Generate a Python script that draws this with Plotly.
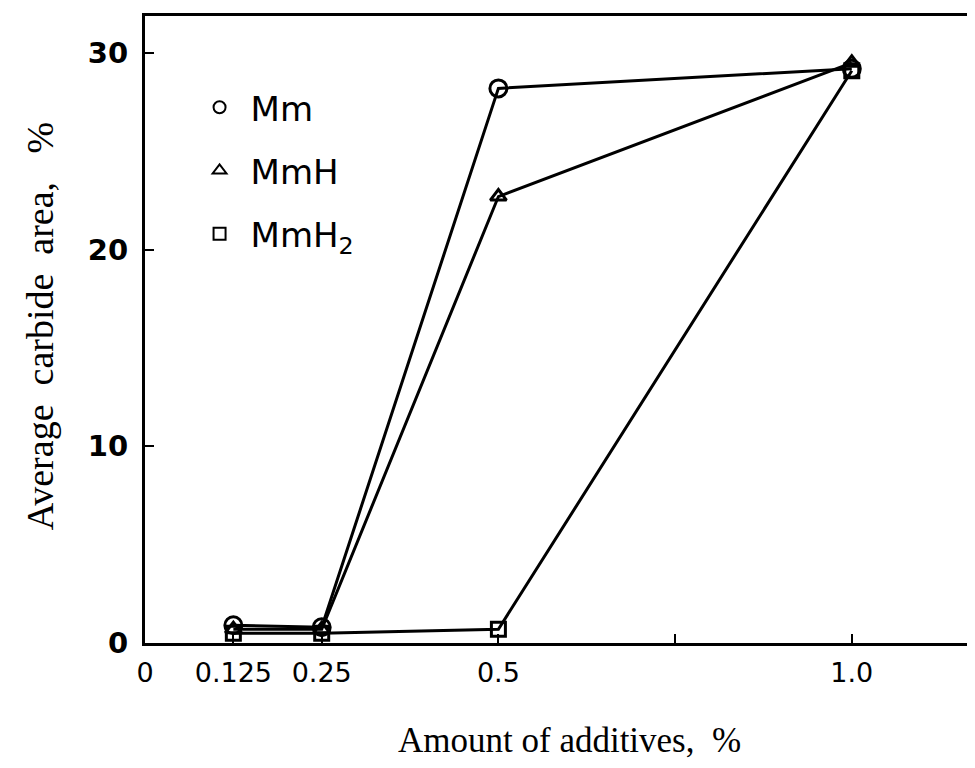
import plotly.graph_objects as go

# Data
additive = [0.125, 0.25, 0.5, 1.0]
mm = [0.9, 0.8, 28.2, 29.2]
mmh = [0.7, 0.7, 22.7, 29.5]
mmh2 = [0.5, 0.5, 0.7, 29.1]

series_names = ["Mm", "MmH", "MmH<sub>2</sub>"]
series_values = [mm, mmh, mmh2]
series_symbols = ["circle-open", "triangle-up-open", "square-open"]
series_sizes = [17, 14, 14]

x_tickvals = [0, 0.125, 0.25, 0.5, 0.75, 1.0]
x_ticktext = ["0", "0.125", "0.25", "0.5", "", "1.0"]
y_tickvals = [0, 10, 20, 30]

x_title = "Amount of additives,\u00a0\u00a0%"
y_title = "Average\u00a0 carbide\u00a0 area,\u00a0\u00a0\u00a0%"

fig = go.Figure()
for i, (name, vals, sym, sz) in enumerate(zip(series_names, series_values, series_symbols, series_sizes)):
    fig.add_trace(go.Scatter(
        x=additive, y=vals, mode="lines+markers", showlegend=False,
        line=dict(color="black", width=3),
        marker=dict(symbol=sym, size=sz, color="black", line=dict(width=3, color="black")),
    ))
    # legend entry (marker only)
    fig.add_trace(go.Scatter(
        x=[None], y=[None], mode="markers", name=name, legendgroup=f"g{i}",
        marker=dict(symbol=sym, size=10, color="black", line=dict(width=3, color="black")),
    ))

fig.update_layout(
    width=967, height=760,
    margin=dict(l=137, r=5, t=7, b=125),
    paper_bgcolor="white", plot_bgcolor="white",
    font=dict(family="DejaVu Sans", color="black", size=28),
    legend=dict(x=0.053, y=0.90, xanchor="left", yanchor="top",
                bgcolor="rgba(0,0,0,0)", font=dict(size=34, family="DejaVu Sans"),
                tracegroupgap=16, itemsizing="constant", itemwidth=52),
    annotations=[
        dict(text=x_title, xref="paper", yref="paper", x=0.516, y=0, xanchor="center",
             yanchor="middle", yshift=-97, showarrow=False,
             font=dict(family="Liberation Serif", size=35)),
        dict(text=y_title, xref="paper", yref="paper", x=0, y=0.505, xanchor="center",
             yanchor="middle", xshift=-105, textangle=-90, showarrow=False,
             font=dict(family="Liberation Serif", size=38)),
    ],
)
fig.update_xaxes(
    range=[0, 1.163], tickvals=x_tickvals, ticktext=x_ticktext,
    ticks="inside", ticklen=9, tickwidth=2, tickcolor="black",
    showline=True, linecolor="black", linewidth=3, mirror=True,
    showgrid=False, zeroline=False, ticklabelstandoff=4,
    tickfont=dict(size=27, family="DejaVu Sans"),
)
fig.update_yaxes(
    range=[0, 31.88], tickvals=y_tickvals,
    ticks="inside", ticklen=9, tickwidth=2, tickcolor="black",
    showline=True, linecolor="black", linewidth=3, mirror=True,
    showgrid=False, zeroline=False, ticklabelstandoff=8,
    tickfont=dict(size=29, family="DejaVu Sans", weight="bold"),
)

fig.write_html("out.html")
